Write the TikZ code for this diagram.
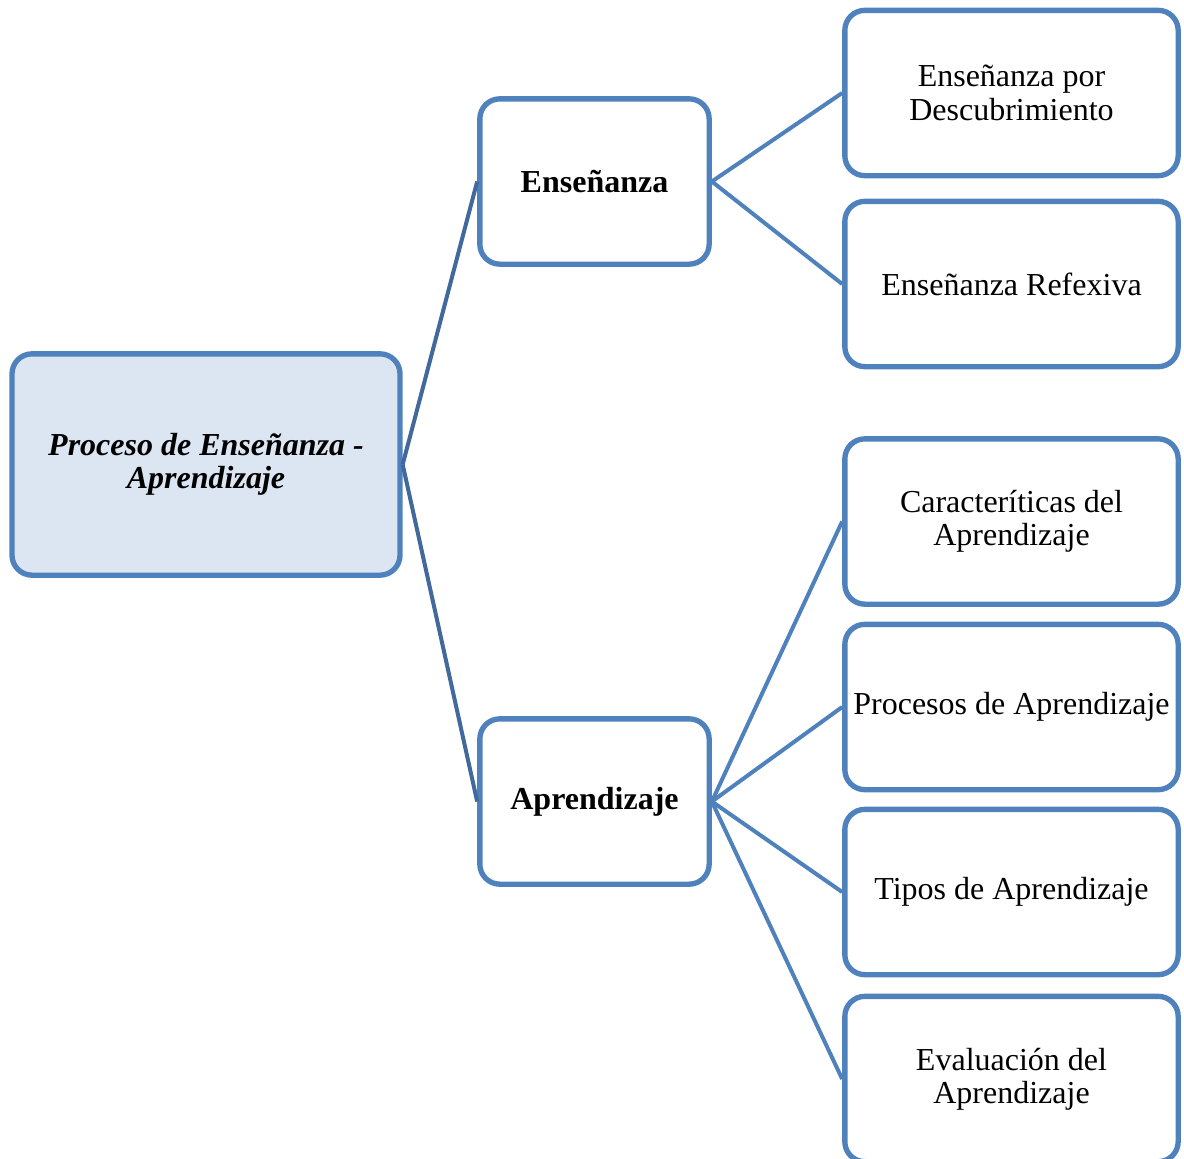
\documentclass[tikz,border=0pt]{standalone}
\usepackage{fontspec}
\setmainfont{Liberation Serif}
\usetikzlibrary{
  positioning,
  calc
}
\definecolor{boxline}{HTML}{4F81BD}
\definecolor{rootfill}{HTML}{DCE6F2}
\definecolor{rootline}{HTML}{41699B}
\tikzset{
  map box/.style={
    draw=boxline,
    line width=2pt,
    rounded corners=7.5pt,
    align=center,
    inner sep=2pt,
    font=\fontsize{12}{12.5}\selectfont
  },
  root box/.style={
    map box,
    fill=rootfill,
    minimum width=145.5pt,
    minimum height=83pt,
    font=\fontsize{12}{12.5}\selectfont\bfseries\itshape
  },
  mid box/.style={
    map box,
    minimum width=86pt,
    minimum height=62pt,
    font=\fontsize{12}{12.5}\selectfont\bfseries
  },
  leaf box/.style={
    map box,
    minimum width=125pt,
    minimum height=62pt
  },
  branch/.style={
    boxline,
    line width=1.5pt
  },
  trunk/.style={
    rootline,
    line width=1.5pt
  }
}

\begin{document}
\begin{tikzpicture}[x=0.375pt,y=-0.375pt]
\useasboundingbox (0,0) rectangle (1184,1158);
\node[root box] (root) at (206,464.5) {Proceso de Enseñanza -\\Aprendizaje};
\node[mid box] (ense) at (594.5,181.5) {Enseñanza};
\node[mid box] (apre) at (594.5,801.5) {Aprendizaje};
\node[leaf box] (desc) at (1011.5,93) {Enseñanza por\\Descubrimiento};
\node[leaf box] (refl) at (1011.5,284) {Enseñanza Refexiva};
\node[leaf box] (cara) at (1011.5,521.5) {Caracteríticas del\\Aprendizaje};
\node[leaf box] (proc) at (1011.5,707) {Procesos de Aprendizaje};
\node[leaf box] (tipo) at (1011.5,892) {Tipos de Aprendizaje};
\node[leaf box] (eval) at (1011.5,1079) {Evaluación del\\Aprendizaje};

\draw[trunk] (root.east) -- (ense.west);
\draw[trunk] (root.east) -- (apre.west);
\foreach \leaf in {desc,refl}
  \draw[branch] (ense.east) -- (\leaf.west);
\foreach \leaf in {cara,proc,tipo,eval}
  \draw[branch] (apre.east) -- (\leaf.west);
\end{tikzpicture}
\end{document}
